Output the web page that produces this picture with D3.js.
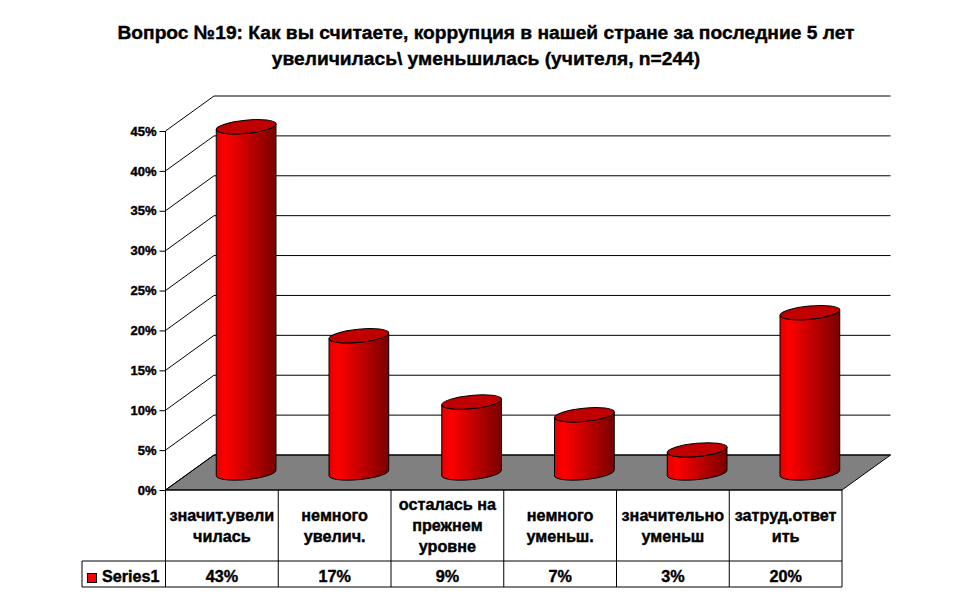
<!DOCTYPE html>
<html><head><meta charset="utf-8">
<script src="https://cdn.jsdelivr.net/npm/d3@7"></script>
<style>
html,body{margin:0;padding:0;background:#fff}
svg{display:block}
text{font-family:"Liberation Sans",Arial,sans-serif;font-weight:bold;fill:#000;stroke:#000;stroke-width:.4px}
</style></head><body>
<svg id="c" width="970" height="604"></svg>
<script>
const titleLines = ["Вопрос №19: Как вы считаете, коррупция в нашей стране за последние 5 лет", "увеличилась\\ уменьшилась (учителя, n=244)"];
const categories = ["значит.увели чилась", "немного увелич.", "осталась на прежнем уровне", "немного уменьш.", "значительно уменьш", "затруд.ответ ить"];
const categoryLines = [["значит.увели","чилась"],["немного","увелич."],["осталась на","прежнем","уровне"],["немного","уменьш."],["значительно","уменьш"],["затруд.ответ","ить"]];
const values = [43.4, 17.2, 8.9, 7.3, 2.9, 20.1];
const seriesName = "Series1";
const tickValues = [0, 5, 10, 15, 20, 25, 30, 35, 40, 45];

const svg = d3.select("#c");
const x = d3.scaleBand().domain(categories).range([165.5, 842]).paddingInner(0).paddingOuter(0);
const y = d3.scaleLinear().domain([0, 45]).range([490, 131]);
const depthX = 48.5, depthY = 35;
const rx = 30, ry = 6.6, rot = -5.5;
const ink = "#000";
const pct = v => d3.format(".0f")(v) + "%";

const defs = svg.append("defs");
const grad = defs.append("linearGradient").attr("id", "cyl").attr("x1", 0).attr("x2", 1).attr("y1", 0).attr("y2", 0);
[[0,"#e00000"],[0.15,"#ff0000"],[1,"#7a0000"]].forEach(([o,c]) => grad.append("stop").attr("offset", o).attr("stop-color", c));

svg.append("g").selectAll("text").data(titleLines).join("text")
  .attr("x", 486).attr("y", (d,i) => 39 + i*26).attr("text-anchor", "middle")
  .style("font-size", "19.2px").text(d => d);

// floor
const L = x.range()[0], R = x.range()[1];
svg.append("path").attr("fill", "#808080").attr("stroke", ink).attr("stroke-width", 1)
  .attr("d", d3.line()([[L, y(0)], [L+depthX, y(0)-depthY], [R+depthX, y(0)-depthY], [R, y(0)]]) + "Z");

// gridlines: side wall diagonal + back wall
const grid = svg.append("g");
grid.selectAll("path").data(tickValues).join("path")
  .attr("fill", "none").attr("stroke", ink).attr("stroke-width", 1)
  .attr("d", d => d3.line()([[L, y(d)], [L+depthX, y(d)-depthY], [R+depthX, y(d)-depthY]]));

// value axis
const axisG = svg.append("g").attr("transform", `translate(${L},0)`)
  .call(d3.axisLeft(y).tickValues(tickValues).tickSize(6).tickPadding(3).tickFormat(d => d + "%"));
axisG.selectAll("path,line").attr("stroke", ink).attr("stroke-width", 1);
axisG.selectAll("text").style("font-size", "13px").style("font-family", '"Liberation Sans",Arial,sans-serif');
axisG.select(".domain").attr("d", `M0,${y(45)}V${y(0)}`);

// cylinders
const bars = svg.append("g").selectAll("g").data(values).join("g");
const cx = (d,i) => x(categories[i]) + x.bandwidth()/2 + depthX/2;
const baseY = y(0) - depthY/2 + 0.5;
const tip = () => { const a = rot*Math.PI/180; return [rx*Math.cos(a), rx*Math.sin(a)]; };
bars.append("path").attr("fill", "url(#cyl)").attr("stroke", ink).attr("stroke-width", 1)
  .attr("d", (d,i) => {
    const c = cx(d,i), h = y(0) - y(d), [dx,dy] = tip();
    const by = baseY, ty = baseY - h;
    return `M${c-dx},${ty-dy} L${c-dx},${by-dy} A${rx},${ry} ${rot} 0 0 ${c+dx},${by+dy} L${c+dx},${ty+dy} A${rx},${ry} ${rot} 0 1 ${c-dx},${ty-dy} Z`;
  });
bars.append("ellipse").attr("fill", "#c00000").attr("stroke", ink).attr("stroke-width", 1)
  .attr("rx", rx).attr("ry", ry)
  .attr("transform", (d,i) => `translate(${cx(d,i)},${baseY - (y(0)-y(d))}) rotate(${rot})`);

// data table
const rowTop = y(0), rowMid = 561, rowBot = 587, legendL = 82;
const table = svg.append("g").attr("stroke", ink).attr("stroke-width", 1).attr("fill", "none");
table.selectAll("line.v").data([...categories.map(c => x(c)), R]).join("line")
  .attr("x1", d => d).attr("x2", d => d).attr("y1", rowTop).attr("y2", rowBot);
table.append("line").attr("x1", L).attr("x2", R).attr("y1", rowTop).attr("y2", rowTop);
table.append("line").attr("x1", legendL).attr("x2", R).attr("y1", rowMid).attr("y2", rowMid);
table.append("line").attr("x1", legendL).attr("x2", R).attr("y1", rowBot).attr("y2", rowBot);
table.append("line").attr("x1", legendL).attr("x2", legendL).attr("y1", rowMid).attr("y2", rowBot);

const fs = 16.2, lh = 21;
svg.append("g").selectAll("text").data(categoryLines).join("text")
  .attr("text-anchor", "middle").style("font-size", fs + "px")
  .attr("transform", (d,i) => `translate(${x(categories[i]) + x.bandwidth()/2},${(rowTop+rowMid)/2 + 5.5 - (d.length-1)*lh/2})`)
  .selectAll("tspan").data(d => d).join("tspan").attr("x", 0).attr("y", (d,i) => i*lh).text(d => d);

svg.append("g").selectAll("text").data(values).join("text")
  .attr("text-anchor", "middle").style("font-size", fs + "px")
  .attr("x", (d,i) => x(categories[i]) + x.bandwidth()/2).attr("y", 582).text(d => pct(d));

svg.append("rect").attr("x", 87.5).attr("y", 573.5).attr("width", 9).attr("height", 9).attr("fill", "#ff0000").attr("stroke", ink);
svg.append("text").attr("x", 102).attr("y", 582).style("font-size", fs + "px").text(seriesName);
</script>
</body></html>
